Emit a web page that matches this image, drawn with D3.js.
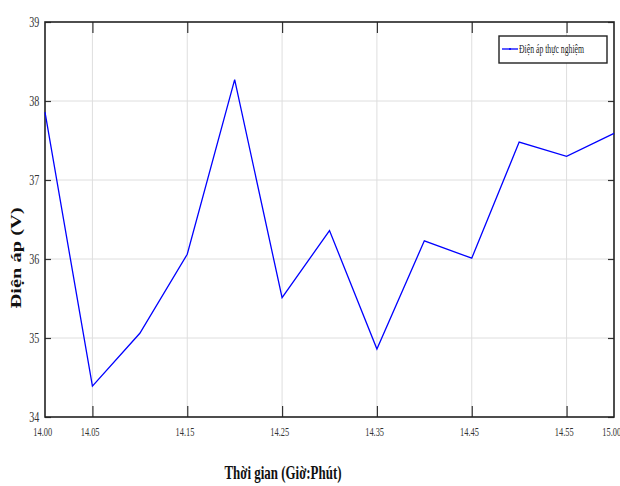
<!DOCTYPE html>
<html>
<head>
<meta charset="utf-8">
<script src="https://cdn.jsdelivr.net/npm/d3@7"></script>
<style>
  body { margin: 0; background: #fff; }
  svg { display: block; font-family: "Liberation Serif", "DejaVu Serif", serif; }
  .tick text { fill: #333; }
</style>
</head>
<body>
<div id="chart"></div>
<script>
// data
const times = ["14.00", "14.05", "14.10", "14.15", "14.20", "14.25", "14.30",
               "14.35", "14.40", "14.45", "14.50", "14.55", "15.00"];
const voltage = [37.86, 34.39, 35.06, 36.06, 38.27, 35.51, 36.36,
                 34.86, 36.23, 36.01, 37.48, 37.30, 37.59];
const xTicks = ["14.00", "14.05", "14.15", "14.25", "14.35", "14.45", "14.55", "15.00"];
const yTicks = [34, 35, 36, 37, 38, 39];
const seriesName = "Điện áp thực nghiệm";

const width = 620, height = 486;
const pl = 45, pr = 614, pt = 22, pb = 417;

const svg = d3.select("#chart").append("svg")
  .attr("width", width)
  .attr("height", height);

const x = d3.scalePoint().domain(times).range([pl, pr]);
const y = d3.scaleLinear().domain([34, 39]).range([pb, pt]);

// grid
const inner = xTicks.filter(t => t !== "14.00" && t !== "15.00");
svg.append("g").selectAll("line").data(inner).join("line")
  .attr("x1", d => x(d)).attr("x2", d => x(d))
  .attr("y1", pt).attr("y2", pb)
  .attr("stroke", "#dedede").attr("stroke-width", 1);
svg.append("g").selectAll("line").data(yTicks.slice(1, -1)).join("line")
  .attr("x1", pl).attr("x2", pr)
  .attr("y1", d => y(d)).attr("y2", d => y(d))
  .attr("stroke", "#dedede").attr("stroke-width", 1);

// axes (ticks inward)
const xb = svg.append("g").attr("transform", `translate(0,${pb})`)
  .call(d3.axisBottom(x).tickValues(xTicks).tickSizeInner(-11).tickSizeOuter(0).tickPadding(10));
const xt = svg.append("g").attr("transform", `translate(0,${pt})`)
  .call(d3.axisTop(x).tickValues(inner).tickSizeInner(-11).tickSizeOuter(0).tickFormat(""));
const yl = svg.append("g").attr("transform", `translate(${pl},0)`)
  .call(d3.axisLeft(y).tickValues(yTicks).tickFormat(d3.format("d"))
    .tickSizeInner(-6).tickSizeOuter(0).tickPadding(8));
const yr = svg.append("g").attr("transform", `translate(${pr},0)`)
  .call(d3.axisRight(y).tickValues(yTicks).tickSizeInner(-6).tickSizeOuter(0).tickFormat(""));

[xb, xt, yl, yr].forEach(g => {
  g.attr("font-family", null).attr("font-size", null);
  g.select(".domain").remove();
  g.selectAll(".tick line").attr("stroke", "#333").attr("stroke-width", 1.2);
});
// no tick marks on the frame corners
xb.selectAll(".tick").filter(d => d === "14.00" || d === "15.00").select("line").remove();

xb.selectAll(".tick text")
  .attr("font-size", 12)
  .attr("x", -4)
  .attr("transform", "scale(0.7,1)");
yl.selectAll(".tick text")
  .attr("font-size", 14)
  .attr("dy", "0.32em")
  .attr("transform", "scale(0.72,1)");

// frame
svg.append("rect")
  .attr("x", pl).attr("y", pt)
  .attr("width", pr - pl).attr("height", pb - pt)
  .attr("fill", "none").attr("stroke", "#222").attr("stroke-width", 1.6);

// series
const line = d3.line().x((d, i) => x(times[i])).y(d => y(d));
svg.append("path")
  .datum(voltage)
  .attr("d", line)
  .attr("fill", "none")
  .attr("stroke", "#0000ff")
  .attr("stroke-width", 1.3);

// legend
const lg = svg.append("g");
lg.append("rect")
  .attr("x", 499).attr("y", 36).attr("width", 108).attr("height", 27)
  .attr("fill", "#fff").attr("stroke", "#222").attr("stroke-width", 1.4);
lg.append("line")
  .attr("x1", 502).attr("x2", 518).attr("y1", 49).attr("y2", 49)
  .attr("stroke", "#0000ff").attr("stroke-width", 1.3);
lg.append("circle").attr("cx", 510).attr("cy", 49).attr("r", 1).attr("fill", "#0000ff");
lg.append("text")
  .attr("x", 519).attr("y", 53)
  .attr("font-size", 12)
  .attr("fill", "#222")
  .attr("textLength", 65).attr("lengthAdjust", "spacingAndGlyphs")
  .text(seriesName);

// axis titles
svg.append("text")
  .attr("x", 283).attr("y", 479)
  .attr("text-anchor", "middle")
  .attr("font-size", 19).attr("font-weight", "bold")
  .attr("fill", "#111")
  .attr("textLength", 117).attr("lengthAdjust", "spacingAndGlyphs")
  .text("Thời gian (Giờ:Phút)");

svg.append("text")
  .attr("transform", "translate(21,258) rotate(-90)")
  .attr("text-anchor", "middle")
  .attr("font-size", 15).attr("font-weight", "bold")
  .attr("fill", "#111")
  .attr("textLength", 101).attr("lengthAdjust", "spacingAndGlyphs")
  .text("Điện áp (V)");
</script>
</body>
</html>
